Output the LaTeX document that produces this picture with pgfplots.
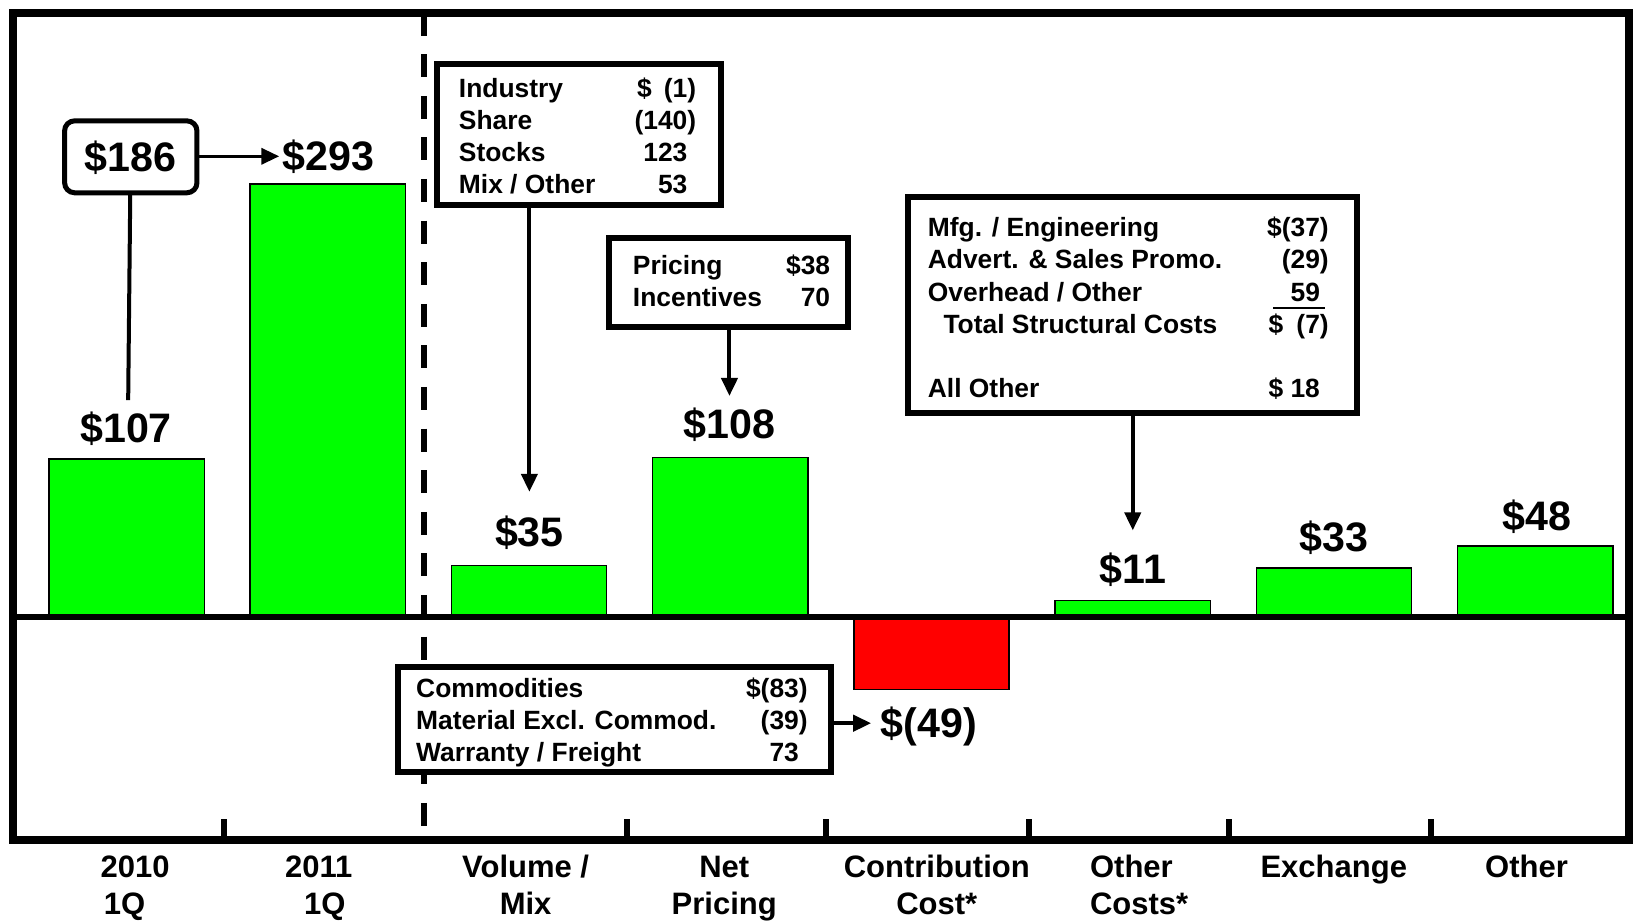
\documentclass[border=0pt]{standalone}
\usepackage{fontspec}
\setmainfont{Liberation Sans}
\usepackage{pgfplots}
\pgfplotsset{compat=1.18}
\usetikzlibrary{arrows.meta}

\definecolor{barGreen}{RGB}{0,255,0}
\definecolor{barRed}{RGB}{255,0,0}

\newcommand{\valfont}{\fontsize{20.6}{24}\selectfont\bfseries}
\newcommand{\boxfont}{\fontsize{13.2}{16}\selectfont\bfseries}
\newcommand{\catfont}{\fontsize{15.5}{18.5}\selectfont\bfseries}
% category label: column type, lines
\newcommand{\tl}[2]{\begin{tabular}{@{}#1@{}}#2\end{tabular}}

% one row of a note box: label at x1 (left), number ending at x2 (right)
\newcommand{\lbl}[3]{\node[anchor=base west, inner sep=0pt, font=\boxfont] at (#1,#2) {#3};}
\newcommand{\num}[3]{\node[anchor=base east, inner sep=0pt, font=\boxfont] at (#1,#2) {#3};}

\begin{document}
\begin{tikzpicture}[px/.style={x=0.52104pt, y=-0.52104pt, shift={(-6.2525pt,419.958pt)}}]

\begin{axis}[
    at={(0,0)}, anchor=south west,
    x=100.613pt, y=0.73883pt,
    xmin=-0.567, xmax=7.465, ymin=-150.9, ymax=409,
    axis line style={line width=4pt},
    ytick=\empty,
    xtick={0.484,2.488,3.477,4.482,5.48,6.48},
    xticklabels={},
    tick align=inside, xtick pos=left,
    major tick length=10.4pt,
    xtick style={line width=3pt, black},
    extra x ticks={0.042,0.955,1.983,2.970,4.026,5.032,5.999,6.957},
    extra x tick labels={{\tl{l}{2010\\\hspace{1.6pt}1Q}},{\tl{c}{2011\\\hspace{6pt}1Q}},{\tl{c}{Volume /\\Mix}},{\tl{c}{Net\\Pricing}},
      {\tl{c}{Contribution\\Cost*}},{\tl{l}{Other\\Costs*}},{\tl{c}{Exchange}},{\tl{c}{Other}}},
    extra x tick style={major tick length=0pt, tick style={draw=none}},
    xticklabel style={font=\catfont, anchor=north, inner sep=0pt, yshift=-5.65pt},
    clip=false,
  ]
  \addplot[ybar, bar width=0.7716, bar shift=0pt, fill=barGreen, draw=black, line width=0.7pt]
    coordinates {(0,107) (1,293) (2,35) (3,108) (5,11) (6,33) (7,48)};
  \addplot[ybar, bar width=0.7716, bar shift=0pt, fill=barRed, draw=black, line width=0.7pt]
    coordinates {(4,-49)};
  \draw[line width=3pt] (axis cs:-0.567,0) -- (axis cs:7.465,0);
  \draw[line width=3.2pt, dash pattern=on 11.5pt off 9.3pt] (axis cs:1.478,409) -- (axis cs:1.478,-150.9);
\end{axis}

\begin{scope}[px]
  % 2010 -> 2011 adjustment
  \draw[line width=2pt] (125,185) -- (123,384);
  \draw[line width=2.5pt, rounded corners=5pt, fill=white] (62,116) rectangle (189,185);
  \node[font=\valfont] at (125.5,151) {\$186};
  \draw[line width=1.8pt, -{Triangle[length=9pt,width=8pt]}] (189,150) -- (268,150);
  \node[font=\valfont, anchor=west, inner sep=0pt] at (271,150) {\$293};

  % bar values
  \node[font=\valfont] at (121,411) {\$107};
  \node[font=\valfont] at (508,511) {\$35};
  \node[font=\valfont] at (700,408) {\$108};
  \node[font=\valfont] at (1087,547) {\$11};
  \node[font=\valfont] at (1280,516) {\$33};
  \node[font=\valfont] at (1475,496) {\$48};
  \node[font=\valfont, anchor=west, inner sep=0pt] at (845,697) {\$(49)};

  % arrows from note boxes
  \draw[line width=2pt, -{Triangle[length=9pt,width=8pt]}] (508,197) -- (508,472);
  \draw[line width=2pt, -{Triangle[length=9pt,width=8pt]}] (700,314) -- (700,380);
  \draw[line width=2pt, -{Triangle[length=9pt,width=8pt]}] (1087,396) -- (1087,509);
  \draw[line width=2pt, -{Triangle[length=9pt,width=8pt]}] (797,694) -- (836,694);

  % volume / mix
  \draw[line width=3pt, fill=white] (419,61) rectangle (692,197);
  \lbl{440}{94}{Industry}     \node[anchor=base west, inner sep=0pt, font=\boxfont] at (611,94) {\$}; \num{660}{94}{(1\rlap{)}}
  \lbl{440}{124.5}{Share}     \num{660}{124.5}{(140\rlap{)}}
  \lbl{440}{155}{Stocks}      \num{660}{155}{123}
  \lbl{440}{186}{Mix / Other} \num{660}{186}{53}

  % net pricing
  \draw[line width=3pt, fill=white] (584,228) rectangle (814,314);
  \lbl{607}{263}{Pricing}     \num{797}{263}{\$38}
  \lbl{607}{294}{Incentives}  \num{797}{294}{70}

  % other costs
  \draw[line width=3pt, fill=white] (871,189) rectangle (1302,396);
  \lbl{890}{227}{Mfg. / Engineering}         \num{1267}{227}{\$(37\rlap{)}}
  \lbl{890}{258}{Advert. \& Sales Promo.}    \num{1267}{258}{(29\rlap{)}}
  \lbl{890}{289}{Overhead / Other}           \num{1267}{289}{59}
  \draw[line width=1pt] (1222,295.5) -- (1271,295.5);
  \lbl{905}{320}{Total Structural Costs}     \node[anchor=base west, inner sep=0pt, font=\boxfont] at (1217,320) {\$}; \num{1267}{320}{(7\rlap{)}}
  \lbl{890}{381}{All Other}                  \num{1267}{381}{\$ 18}

  % contribution cost
  \draw[line width=3pt, fill=white] (382,640) rectangle (797,741);
  \lbl{399}{669}{Commodities}                \num{767}{669}{\$(83\rlap{)}}
  \lbl{399}{700}{Material Excl. Commod.}     \num{767}{700}{(39\rlap{)}}
  \lbl{399}{731}{Warranty / Freight}         \num{767}{731}{73}
\end{scope}

% page = the reference's frame
\pgfresetboundingbox
\path[px, use as bounding box] (0,0) rectangle (1568,883);
\end{tikzpicture}
\end{document}
